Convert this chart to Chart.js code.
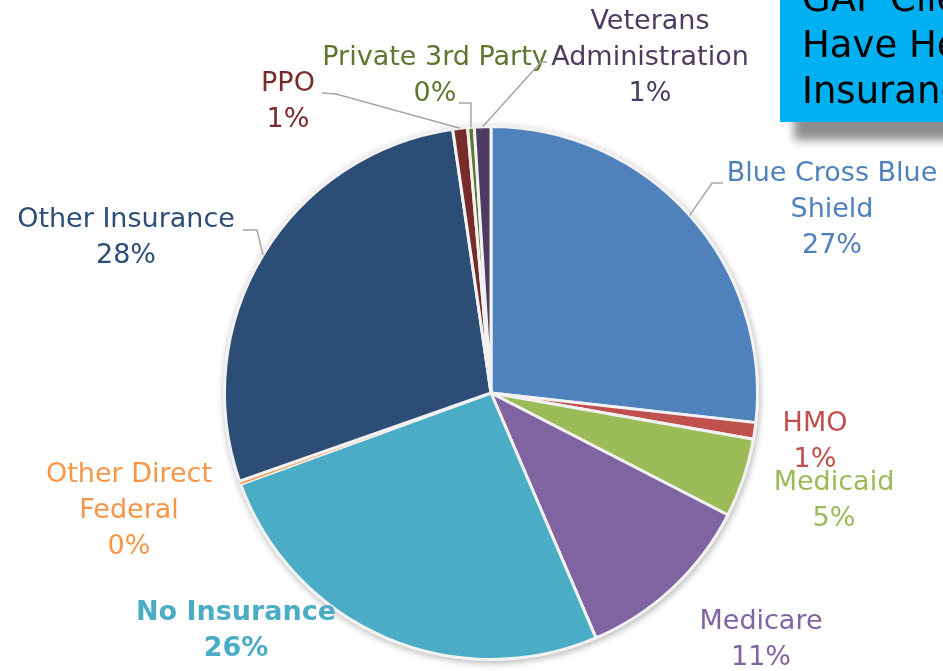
<!DOCTYPE html>
<html>
<head>
<meta charset="utf-8">
<script src="https://cdn.jsdelivr.net/npm/chart.js@4.4.1/dist/chart.umd.min.js"></script>
<style>
    html, body { margin: 0; padding: 0; background: #fff; overflow: hidden; }
    #wrap { position: relative; width: 943px; height: 671px; }
    #gapBox {
        position: absolute; left: 780px; top: -60px; width: 220px; height: 182px;
        background: #00b0f0; box-shadow: 14px 18px 9px rgba(0, 0, 0, 0.45);
    }
    #gapText {
        position: absolute; left: 802px; top: -24px; white-space: nowrap;
        font: 37px "DejaVu Sans", sans-serif; line-height: 46px; color: #000;
    }
</style>
</head>
<body>
<div id="wrap">
    <canvas id="insuranceChart" width="943" height="671"></canvas>
    <div id="gapBox"></div>
    <div id="gapText">GAP Clients Who<br>Have Health<br>Insurance</div>
</div>
<script>
// payer categories, clockwise from 12 o'clock
const categories = [
    "Blue Cross Blue Shield", "HMO", "Medicaid", "Medicare", "No Insurance",
    "Other Direct Federal", "Other Insurance", "PPO", "Private 3rd Party", "Veterans Administration",
];
// share of clients (%)
const shares = [26.8, 1.0, 4.8, 11.0, 25.9, 0.2, 28.1, 0.9, 0.4, 1.0];
// how each category name wraps on the chart
const labelLines = [
    ["Blue Cross Blue", "Shield"], ["HMO"], ["Medicaid"], ["Medicare"], ["No Insurance"],
    ["Other Direct", "Federal"], ["Other Insurance"], ["PPO"], ["Private 3rd Party"], ["Veterans", "Administration"],
];
const sliceColors = [
    "#4f81bd", "#c0504d", "#9bbb59", "#8064a2", "#4bacc6",
    "#f79646", "#2c4d75", "#772c2a", "#5f7530", "#4d3b62",
];

// where the data labels sit (centre of first line) and their leader line bends
const labelSpots = [
    { x: 832, y: 174, leader: [[712, 183], [723, 183]] },
    { x: 815, y: 424 },
    { x: 834, y: 483 },
    { x: 761, y: 622 },
    { x: 236, y: 613, bold: true },
    { x: 129, y: 475 },
    { x: 126, y: 220, leader: [[257, 230], [243, 230]] },
    { x: 288, y: 84, leader: [[336, 94], [322, 93]] },
    { x: 435, y: 58, leader: [[471, 103], [459, 103]] },
    { x: 650, y: 22, leader: [[541, 62], [547, 62]] },
];

const LINE_H = 36;

const pieShadow = {
    id: "pieShadow",
    beforeDatasetsDraw(chart) {
        const arc = chart.getDatasetMeta(0).data[0];
        if (!arc) return;
        const ctx = chart.ctx;
        ctx.save();
        ctx.shadowColor = "rgba(0,0,0,0.30)";
        ctx.shadowBlur = 7;
        ctx.shadowOffsetX = 1;
        ctx.shadowOffsetY = 2;
        ctx.fillStyle = "#ebebeb";
        ctx.beginPath();
        ctx.arc(arc.x, arc.y, arc.outerRadius + 1.5, 0, Math.PI * 2);
        ctx.fill();
        ctx.restore();
    },
};

const sliceLabels = {
    id: "sliceLabels",
    afterDatasetsDraw(chart) {
        const ctx = chart.ctx;
        const meta = chart.getDatasetMeta(0);
        const total = shares.reduce((a, b) => a + b, 0);
        ctx.save();
        meta.data.forEach((arc, i) => {
            const spot = labelSpots[i];
            const color = sliceColors[i];
            // leader line from the slice edge
            if (spot.leader) {
                const mid = (arc.startAngle + arc.endAngle) / 2;
                const r = arc.outerRadius;
                ctx.strokeStyle = "#a6a6a6";
                ctx.lineWidth = 1.5;
                ctx.beginPath();
                ctx.moveTo(arc.x + Math.cos(mid) * r, arc.y + Math.sin(mid) * r);
                spot.leader.forEach((p) => ctx.lineTo(p[0], p[1]));
                ctx.stroke();
            }
            const pct = Math.round((shares[i] / total) * 100) + "%";
            const lines = labelLines[i].concat([pct]);
            ctx.fillStyle = color;
            ctx.textAlign = "center";
            ctx.textBaseline = "middle";
            ctx.font = (spot.bold ? "bold " : "") + "27px 'DejaVu Sans', sans-serif";
            lines.forEach((t, k) => ctx.fillText(t, spot.x, spot.y + k * LINE_H));
        });
        ctx.restore();
    },
};

new Chart(document.getElementById("insuranceChart"), {
    type: "pie",
    data: {
        labels: categories,
        datasets: [
            {
                data: shares,
                backgroundColor: sliceColors,
                borderColor: "#f2f2f2",
                // the tiny Other Direct Federal wedge would vanish under its own border
                borderWidth: shares.map((v) => (v < 0.3 ? 0 : 3)),
            },
        ],
    },
    options: {
        responsive: false,
        animation: false,
        layout: { padding: { left: 223, right: 184, top: 125, bottom: 10 } },
        plugins: {
            legend: { display: false },
            tooltip: { enabled: false },
        },
    },
    plugins: [pieShadow, sliceLabels],
});
</script>
</body>
</html>
